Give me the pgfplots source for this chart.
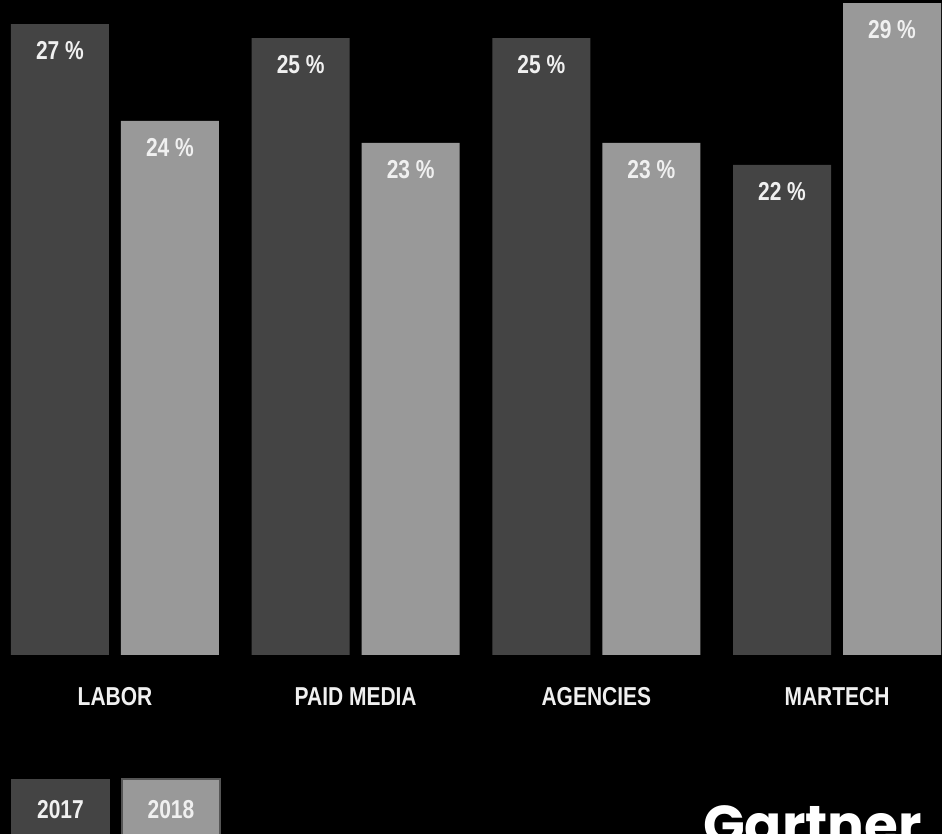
\documentclass[border=0pt]{standalone}
\usepackage{pgfplots}
\pgfplotsset{compat=1.18}
\usepackage{fontspec}
\newfontfamily\cf{Liberation Sans}[FakeStretch=0.81]
\newfontfamily\gf{Poppins}
\definecolor{dk}{HTML}{444444}
\definecolor{lt}{HTML}{999999}
\definecolor{tx}{HTML}{F0F0F0}
\definecolor{bd}{HTML}{555555}
\newcommand{\lf}{\cf\bfseries\fontsize{26}{26}\selectfont}
\begin{document}
\begin{tikzpicture}
\fill[black] (0bp,0bp) rectangle (942bp,834bp);
\useasboundingbox (0bp,0bp) rectangle (942bp,834bp);
\begin{axis}[at={(0bp,179bp)}, anchor=south west, scale only axis,
  width=942bp, height=655bp,
  xmin=-0.4778, xmax=3.4363, ymin=0, ymax=29.18,
  axis line style={draw=none}, major tick length=0, ytick=\empty,
  xtick={0,1,2,3}, xticklabels={LABOR,PAID MEDIA,AGENCIES,MARTECH},
  xticklabel style={font=\lf, text=tx, anchor=base, inner sep=0, yshift=-51bp},
  ybar, bar width=98bp,
  nodes near coords, point meta=explicit symbolic,
  nodes near coords style={anchor=north, inner sep=0, yshift=-17bp, font=\lf, text=tx},
  clip=false]
\addplot[fill=dk, draw=none, bar shift=-55bp] coordinates {
  (0,28.11) [27 \%]
  (1,27.48) [25 \%]
  (2,27.48) [25 \%]
  (3,21.83) [22 \%]
};
\addplot[fill=lt, draw=none, bar shift=55bp] coordinates {
  (0,23.79) [24 \%]
  (1,22.81) [23 \%]
  (2,22.81) [23 \%]
  (3,29.04) [29 \%]
};
\end{axis}
\fill[dk] (11bp,-5bp) rectangle (110bp,55bp);
\fill[lt, draw=bd, line width=1.5bp] (122bp,-5bp) rectangle (220bp,55bp);
\node[anchor=base, inner sep=0, font=\lf, text=tx] at (60.5bp,16bp) {2017};
\node[anchor=base, inner sep=0, font=\lf, text=tx] at (171bp,16bp) {2018};
\node[anchor=base west, inner sep=0, font=\gf\bfseries\fontsize{55}{55}\selectfont, text=white] at (703bp,-10bp) {Gartner};
\end{tikzpicture}
\end{document}
